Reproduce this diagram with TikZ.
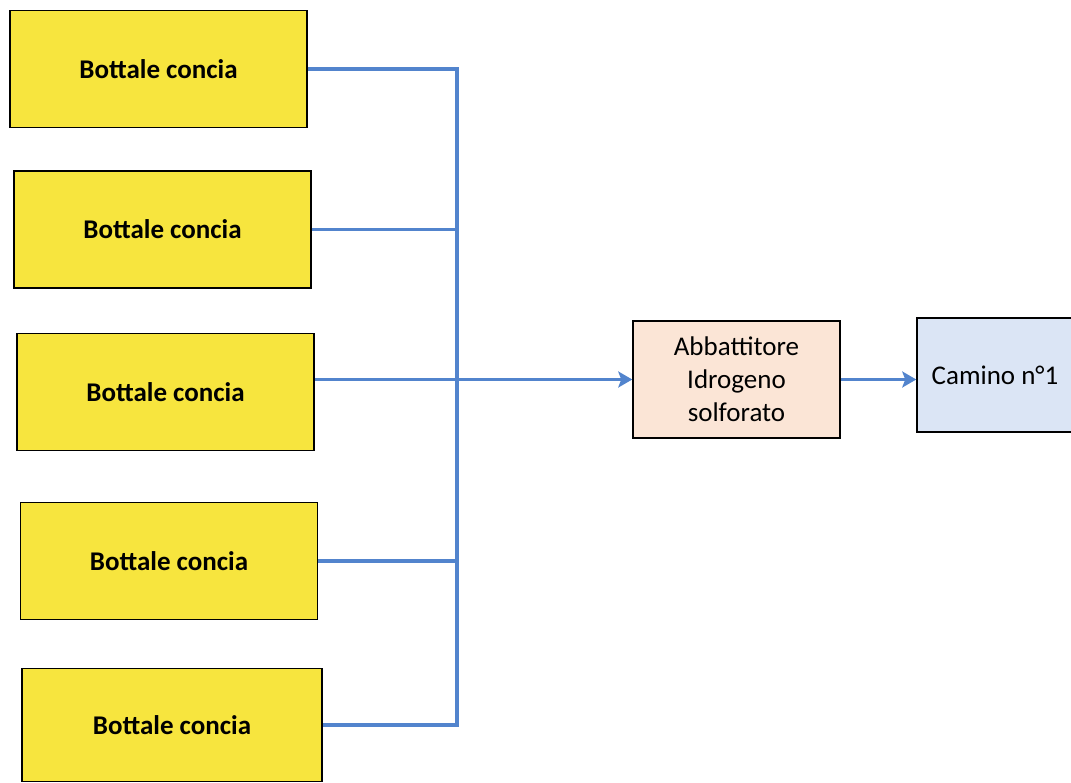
\documentclass[tikz,border=0pt]{standalone}
\usepackage{fontspec}
\setmainfont{Carlito}
\usetikzlibrary{arrows.meta}
\definecolor{tankyellow}{RGB}{247,229,62}
\definecolor{peach}{RGB}{251,229,214}
\definecolor{paleblue}{RGB}{219,229,245}
\definecolor{linkblue}{RGB}{82,132,205}
\tikzset{
  tank/.style={draw=black, line width=1.5pt, fill=tankyellow, minimum width=297pt,
    minimum height=117pt, inner sep=0pt, font=\fontsize{27}{32}\selectfont\bfseries},
  proc/.style={draw=black, line width=1.5pt, inner sep=0pt, align=center,
    font=\fontsize{27}{33}\selectfont},
  conn/.style={draw=linkblue, line width=3.6pt},
  arrowconn/.style={conn, -{Stealth[length=14pt,width=16pt,inset=3pt]}}
}
\begin{document}
\begin{tikzpicture}[x=1pt,y=-1pt]
\useasboundingbox (0,0) rectangle (1071,783);
\node[tank] (b1) at (158.5,69) {Bottale concia};
\node[tank] (b2) at (162.5,229.5) {Bottale concia};
\node[tank] (b3) at (165.5,392) {Bottale concia};
\node[tank] (b4) at (169,561) {Bottale concia};
\node[tank, minimum width=300pt, minimum height=113pt] (b5) at (172,725) {Bottale concia};
\node[proc, fill=peach, minimum width=207pt, minimum height=117pt] (abb) at (736.5,379.5)
  {Abbattitore\\Idrogeno\\solforato};
\node[proc, fill=paleblue, minimum width=156pt, minimum height=114pt] (cam) at (995,375)
  {Camino n°1};
\coordinate (bus) at (457,0);
\draw[conn] (b1.east) -- (b1.east -| bus) -- (b5.east -| bus) -- (b5.east);
\draw[conn] (b2.east) -- (b2.east -| bus);
\draw[conn] (b4.east) -- (b4.east -| bus);
\draw[arrowconn] (b3.east |- abb.west) -- (abb.west);
\draw[arrowconn] (abb.east) -- (cam.west |- abb.east);
\end{tikzpicture}
\end{document}
